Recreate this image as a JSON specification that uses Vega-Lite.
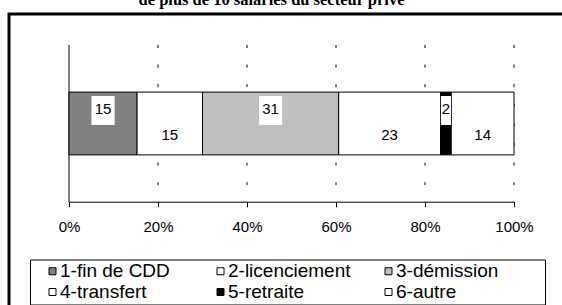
{
  "$schema": "https://vega.github.io/schema/vega-lite/v6.json",
  "autosize": "none",
  "width": 573,
  "height": 311,
  "padding": {"left": 9, "top": 14, "right": -20, "bottom": -20},
  "background": "white",
  "title": {"text": "de plus de 10 salariés du secteur privé", "font": "Liberation Serif", "fontSize": 16.5, "fontWeight": "bold", "color": "black", "anchor": "middle", "dx": -24, "dy": -2},
  "config": {
    "view": {"stroke": "black", "strokeWidth": 3},
    "font": "Liberation Sans",
    "axisX": {"domainColor": "black", "domainWidth": 1, "tickColor": "black", "tickSize": 5, "labelFontSize": 15, "labelColor": "black", "labelFont": "Liberation Sans", "labelPadding": 13, "labelFlush": false, "grid": false, "offset": -123.3, "title": null}
  },
  "data": {"values": [
    {"cat": "1-fin de CDD", "value": 15.3, "label": "15"},
    {"cat": "2-licenciement", "value": 14.7, "label": "15"},
    {"cat": "3-démission", "value": 30.6, "label": "31"},
    {"cat": "4-transfert", "value": 22.9, "label": "23"},
    {"cat": "5-retraite", "value": 2.4, "label": "2"},
    {"cat": "6-autre", "value": 14.1, "label": "14"}
  ]},
  "layer": [
    {
      "data": {"values": [{"pct": 20}, {"pct": 40}, {"pct": 60}, {"pct": 80}, {"pct": 100}]},
      "transform": [{"calculate": "1", "as": "ytop"}, {"calculate": "0", "as": "ybot"}],
      "mark": {"type": "rule", "color": "black", "strokeWidth": 1, "strokeDash": [3, 16.6]},
      "encoding": {
        "x": {"field": "pct", "type": "quantitative", "scale": {"domain": [0, 100], "range": [60, 505]}, "title": null, "axis": {"values": [0, 20, 40, 60, 80, 100], "labelExpr": "datum.value + '%'", "title": null}},
        "y": {"field": "ytop", "type": "quantitative", "scale": {"domain": [0, 1], "range": [188, 31]}, "axis": null},
        "y2": {"field": "ybot"}
      }
    },
    {
      "data": {"values": [{"pct": 0}]},
      "transform": [{"calculate": "1", "as": "ytop"}, {"calculate": "0", "as": "ybot"}],
      "mark": {"type": "rule", "color": "black", "strokeWidth": 1},
      "encoding": {
        "x": {"field": "pct", "type": "quantitative", "title": null},
        "y": {"field": "ytop", "type": "quantitative"},
        "y2": {"field": "ybot"}
      }
    },
    {
      "transform": [
        {"stack": "value", "groupby": [], "sort": [{"field": "cat", "order": "ascending"}], "as": ["start", "end"]},
        {"calculate": "0.7", "as": "ytop"}, {"calculate": "0.3", "as": "ybot"}
      ],
      "mark": {"type": "bar", "stroke": "black", "strokeWidth": 1},
      "encoding": {
        "x": {"field": "start", "type": "quantitative", "title": null},
        "x2": {"field": "end"},
        "y": {"field": "ytop", "type": "quantitative"},
        "y2": {"field": "ybot"},
        "fill": {
          "field": "cat", "type": "nominal",
          "scale": {"domain": ["1-fin de CDD", "2-licenciement", "3-démission", "4-transfert", "5-retraite", "6-autre"], "range": ["#808080", "#ffffff", "#c0c0c0", "#ffffff", "#000000", "#ffffff"]},
          "legend": {"orient": "none", "legendX": 21, "legendY": 245.5, "direction": "horizontal", "columns": 3, "title": "\u00a0", "titleOrient": "right", "titlePadding": 45, "titleFontSize": 10, "strokeColor": "black", "padding": 2, "fillColor": "white", "symbolType": "square", "symbolSize": 49, "symbolStrokeColor": "black", "symbolStrokeWidth": 1, "symbolOffset": 11, "labelOffset": -2, "labelFont": "Liberation Sans", "labelFontSize": 19, "labelColor": "black", "columnPadding": 17, "rowPadding": 1, "gridAlign": "all", "labelLimit": 400}
        }
      }
    },
    {
      "transform": [
        {"stack": "value", "groupby": [], "sort": [{"field": "cat", "order": "ascending"}], "as": ["start", "end"]},
        {"calculate": "(datum.start + datum.end) / 2", "as": "mid"},
        {"window": [{"op": "row_number", "as": "idx"}], "sort": [{"field": "cat", "order": "ascending"}]},
        {"filter": "datum.idx % 2 == 1"},
        {"calculate": "0.583", "as": "ybox"}
      ],
      "mark": {"type": "point", "filled": true, "color": "white", "opacity": 1, "strokeWidth": 0},
      "encoding": {
        "x": {"field": "mid", "type": "quantitative", "title": null},
        "y": {"field": "ybox", "type": "quantitative"},
        "shape": {"condition": {"test": "length(datum.label) == 1", "value": "M-0.35,-1H0.35V1H-0.35Z"}, "value": "M-0.8,-1H0.8V1H-0.8Z"},
        "size": {"value": 841}
      }
    },
    {
      "transform": [
        {"stack": "value", "groupby": [], "sort": [{"field": "cat", "order": "ascending"}], "as": ["start", "end"]},
        {"calculate": "(datum.start + datum.end) / 2", "as": "mid"},
        {"window": [{"op": "row_number", "as": "idx"}], "sort": [{"field": "cat", "order": "ascending"}]},
        {"calculate": "datum.idx % 2 == 1 ? 0.592 : 0.427", "as": "ylab"}
      ],
      "mark": {"type": "text", "font": "Liberation Sans", "fontSize": 15, "color": "black", "baseline": "middle"},
      "encoding": {
        "x": {"field": "mid", "type": "quantitative", "title": null},
        "y": {"field": "ylab", "type": "quantitative"},
        "text": {"field": "label"}
      }
    }
  ]
}
